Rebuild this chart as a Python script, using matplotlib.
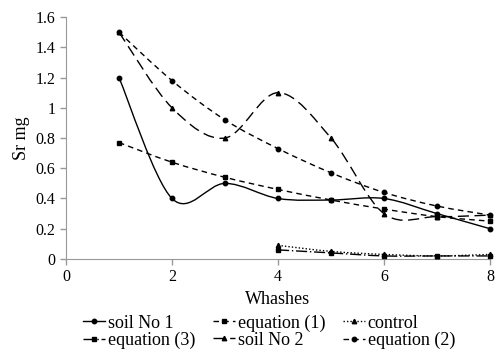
import matplotlib

matplotlib.use("Agg")
import matplotlib.pyplot as plt
import numpy as np
from matplotlib.path import Path
from matplotlib.patches import PathPatch
from matplotlib.lines import Line2D

plt.rcParams["font.family"] = ["Liberation Serif", "DejaVu Serif"]

washes = [1, 2, 3, 4, 5, 6, 7, 8]
washes_low = [4, 5, 6, 7, 8]

soil_no1 = [1.2, 0.4, 0.5, 0.4, 0.39, 0.40, 0.30, 0.20]
soil_no2 = [1.5, 1.0, 0.8, 1.1, 0.80, 0.30, 0.28, 0.29]
equation1 = [0.77, 0.64, 0.54, 0.46, 0.39, 0.33, 0.28, 0.25]
equation2 = [1.5, 1.18, 0.92, 0.73, 0.57, 0.44, 0.35, 0.29]
equation3 = [0.06, 0.04, 0.02, 0.02, 0.02]
control = [0.09, 0.05, 0.03, 0.02, 0.03]


def smooth_path(xs, ys):
    # Excel style smoothed line: cubic bezier through every point
    pts = np.column_stack([xs, ys]).astype(float)
    n = len(pts)
    verts = [pts[0]]
    codes = [Path.MOVETO]
    for i in range(n - 1):
        p0 = pts[i - 1] if i > 0 else pts[i]
        p1 = pts[i]
        p2 = pts[i + 1]
        p3 = pts[i + 2] if i + 2 < n else pts[i + 1]
        c1 = p1 + (p2 - p0) / 6.0
        c2 = p2 - (p3 - p1) / 6.0
        verts += [c1, c2, p2]
        codes += [Path.CURVE4] * 3
    return Path(verts, codes)


fig = plt.figure(figsize=(4.96, 3.49), dpi=100)
ax = fig.add_axes([0.133, 0.258, 0.855, 0.693])

series = [
    ("soil No 1", washes, soil_no1, "-", "o"),
    ("equation (3)", washes_low, equation3, (0, (8, 2, 1, 2)), "s"),
    ("equation (1)", washes, equation1, (0, (4, 3)), "s"),
    ("soil No 2", washes, soil_no2, (0, (8, 4)), "^"),
    ("control", washes_low, control, (0, (1, 1.5)), "^"),
    ("equation (2)", washes, equation2, (0, (4, 3)), "o"),
]

handles = []
for label, xs, ys, ls, mk in series:
    patch = PathPatch(smooth_path(xs, ys), facecolor="none", edgecolor="black",
                      lw=1.0, linestyle=ls)
    ax.add_patch(patch)
    ax.plot(xs, ys, linestyle="none", marker=mk, color="black", ms=3.2,
            clip_on=False, zorder=3)
    handles.append(Line2D([], [], color="black", lw=1.0, linestyle=ls,
                          marker=mk, ms=3.2, label=label))

ax.set_xlim(0, 8)
ax.set_ylim(0, 1.6)
ax.set_xticks([0, 2, 4, 6, 8])
ax.set_yticks(np.arange(0, 1.61, 0.2))
ax.set_yticklabels(["0", "0.2", "0.4", "0.6", "0.8", "1", "1.2", "1.4", "1.6"])
ax.tick_params(labelsize=11.5, color="#999999", length=4, width=1)
for side in ["top", "right"]:
    ax.spines[side].set_visible(False)
for side in ["left", "bottom"]:
    ax.spines[side].set_color("#999999")

ax.set_xlabel("Whashes", fontsize=13, labelpad=4)
ax.set_ylabel("Sr mg", fontsize=13, labelpad=4)

fig.legend(handles=handles, ncol=3, loc="lower left", bbox_to_anchor=(0.167, 0.0),
           frameon=False, fontsize=13, handlelength=1.25, handletextpad=0.15,
           columnspacing=0.95, labelspacing=0.0, borderaxespad=0, borderpad=0)

fig.savefig("out.png", dpi=100)
